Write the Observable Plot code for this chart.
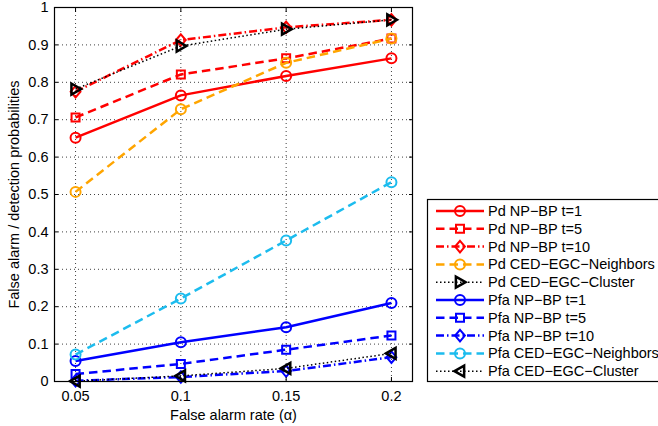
<!DOCTYPE html>
<html>
<head>
<meta charset="utf-8">
<script src="https://cdn.jsdelivr.net/npm/d3@7"></script>
<script src="https://cdn.jsdelivr.net/npm/@observablehq/plot@0.6"></script>
<style>
  body { margin: 0; background: #fff; }
  #chart svg { display: block; }
</style>
</head>
<body>
<div id="chart"></div>
<script>
// ---- data ----
const alpha = [0.05, 0.1, 0.15, 0.2];
const yTicks = [0, 0.1, 0.2, 0.3, 0.4, 0.5, 0.6, 0.7, 0.8, 0.9, 1];
const seriesNames = [
  "Pd NP\u2212BP t=1",
  "Pd NP\u2212BP t=5",
  "Pd NP\u2212BP t=10",
  "Pd CED\u2212EGC\u2212Neighbors",
  "Pd CED\u2212EGC\u2212Cluster",
  "Pfa NP\u2212BP t=1",
  "Pfa NP\u2212BP t=5",
  "Pfa NP\u2212BP t=10",
  "Pfa CED\u2212EGC\u2212Neighbors",
  "Pfa CED\u2212EGC\u2212Cluster"
];
const pdNpbpT1 = [0.652, 0.765, 0.817, 0.864];
const pdNpbpT5 = [0.706, 0.821, 0.864, 0.917];
const pdNpbpT10 = [0.775, 0.913, 0.947, 0.967];
const pdCedNeighbors = [0.507, 0.728, 0.852, 0.917];
const pdCedCluster = [0.782, 0.897, 0.942, 0.967];
const pfaNpbpT1 = [0.055, 0.105, 0.145, 0.210];
const pfaNpbpT5 = [0.020, 0.047, 0.085, 0.123];
const pfaNpbpT10 = [0.002, 0.012, 0.028, 0.065];
const pfaCedNeighbors = [0.072, 0.222, 0.377, 0.533];
const pfaCedCluster = [0.001, 0.015, 0.035, 0.075];
const seriesValues = [pdNpbpT1, pdNpbpT5, pdNpbpT10, pdCedNeighbors, pdCedCluster,
                      pfaNpbpT1, pfaNpbpT5, pfaNpbpT10, pfaCedNeighbors, pfaCedCluster];

// ---- custom marker symbols ----
const rOf = size => Math.sqrt(size / Math.PI);
const symCircle = { draw(c, size) { const r = rOf(size); c.moveTo(r, 0); c.arc(0, 0, r, 0, 2 * Math.PI); } };
const symSquare = { draw(c, size) { const h = rOf(size) * 0.8; c.moveTo(-h, -h); c.lineTo(h, -h); c.lineTo(h, h); c.lineTo(-h, h); c.closePath(); } };
const symDiamond = { draw(c, size) { const h = rOf(size) * 1.15; c.moveTo(0, -h); c.lineTo(h * 0.85, 0); c.lineTo(0, h); c.lineTo(-h * 0.85, 0); c.closePath(); } };
const symTriRight = { draw(c, size) { const r = rOf(size) * 1.1; c.moveTo(r, 0); c.lineTo(-r * 0.75, -r); c.lineTo(-r * 0.75, r); c.closePath(); } };
const symTriLeft = { draw(c, size) { const r = rOf(size) * 1.1; c.moveTo(-r, 0); c.lineTo(r * 0.75, -r); c.lineTo(r * 0.75, r); c.closePath(); } };

// ---- styles (one per series) ----
const DASH = "8.5,5", DASHDOT = "8,3,1.5,3", DOT = "1.5,2.5";
const styles = [
  { color: "#ff0000", width: 2.5, dash: null,    symbol: symCircle,   r: 5, mw: 2 },
  { color: "#ff0000", width: 2.5, dash: DASH,    symbol: symSquare,   r: 5, mw: 2 },
  { color: "#ff0000", width: 2.5, dash: DASHDOT, symbol: symDiamond,  r: 5, mw: 2 },
  { color: "#ffa500", width: 2.5, dash: DASH,    symbol: symCircle,   r: 5, mw: 2 },
  { color: "#000000", width: 1.5, dash: DOT,     symbol: symTriRight, r: 5, mw: 2.5 },
  { color: "#0000ff", width: 2.5, dash: null,    symbol: symCircle,   r: 5, mw: 2 },
  { color: "#0000ff", width: 2.5, dash: DASH,    symbol: symSquare,   r: 5, mw: 2 },
  { color: "#0000ff", width: 2.5, dash: DASHDOT, symbol: symDiamond,  r: 5, mw: 2 },
  { color: "#1cbcee", width: 2.5, dash: DASH,    symbol: symCircle,   r: 5, mw: 2 },
  { color: "#000000", width: 1.5, dash: DOT,     symbol: symTriLeft,  r: 5, mw: 2.5 }
];

const rows = seriesNames.flatMap((name, i) =>
  alpha.map((a, j) => ({ series: name, alpha: a, value: seriesValues[i][j] })));

const seriesMarks = styles.flatMap((s, i) => {
  const data = rows.filter(d => d.series === seriesNames[i]);
  return [
    Plot.line(data, { x: "alpha", y: "value", stroke: s.color, strokeWidth: s.width,
                      strokeDasharray: s.dash, strokeLinecap: "butt" }),
    Plot.dot(data, { x: "alpha", y: "value", symbol: s.symbol, r: s.r, fill: "none",
                     stroke: s.color, strokeWidth: s.mw })
  ];
});

const grid = { stroke: "#000", strokeOpacity: 0.75, strokeDasharray: "1,3", strokeWidth: 1 };

const chart = Plot.plot({
  width: 658,
  height: 426,
  marginLeft: 54,
  marginRight: 246,
  marginTop: 7,
  marginBottom: 45,
  style: { fontFamily: "'Liberation Sans', Arial, Helvetica, sans-serif", fontSize: "14.5px", color: "#000", background: "#fff" },
  x: { domain: [0.04, 0.21] },
  y: { domain: [0, 1] },
  marks: [
    Plot.gridX(alpha, grid),
    Plot.gridY(yTicks, grid),
    ...seriesMarks,
    Plot.frame({ stroke: "#000", strokeWidth: 1.2 }),
    Plot.axisY(yTicks, { anchor: "left", tickSize: -4, tickPadding: 10, tickFormat: d => String(d),
                         label: "False alarm / detection probabilities", labelAnchor: "center",
                         labelArrow: "none", labelOffset: 46, fontSize: 14.5 }),
    Plot.axisY(yTicks, { anchor: "right", tickSize: -4, tickFormat: () => "", label: null }),
    Plot.axisX(alpha, { anchor: "bottom", tickSize: -4, tickPadding: 13, tickFormat: d => String(d),
                        label: "False alarm rate (\u03b1)", labelAnchor: "center",
                        labelArrow: "none", labelOffset: 38, fontSize: 14.5 }),
    Plot.axisX(alpha, { anchor: "top", tickSize: -4, tickFormat: () => "", label: null })
  ]
});

document.getElementById("chart").appendChild(chart);

// ---- legend (drawn into the same SVG) ----
const svg = d3.select(chart);
const lg = svg.append("g").attr("class", "legend").attr("text-anchor", "start");
lg.append("rect").attr("x", 427.5).attr("y", 199.5).attr("width", 260).attr("height", 182)
  .attr("fill", "#fff").attr("stroke", "#000").attr("stroke-width", 1.2);
const rowH = 17.8, y0 = 211;
styles.forEach((s, i) => {
  const y = y0 + i * rowH;
  const g = lg.append("g");
  g.append("line").attr("x1", 436).attr("x2", 484).attr("y1", y).attr("y2", y)
    .attr("stroke", s.color).attr("stroke-width", s.width)
    .attr("stroke-dasharray", s.dash);
  g.append("path").attr("d", d3.symbol(s.symbol, Math.PI * s.r * s.r)())
    .attr("transform", `translate(460,${y})`)
    .attr("fill", "none").attr("stroke", s.color).attr("stroke-width", s.mw);
  g.append("text").attr("x", 488).attr("y", y).attr("dy", "0.35em")
    .attr("text-anchor", "start").attr("font-size", 14.5).attr("fill", "#000").text(seriesNames[i]);
});
</script>
</body>
</html>
